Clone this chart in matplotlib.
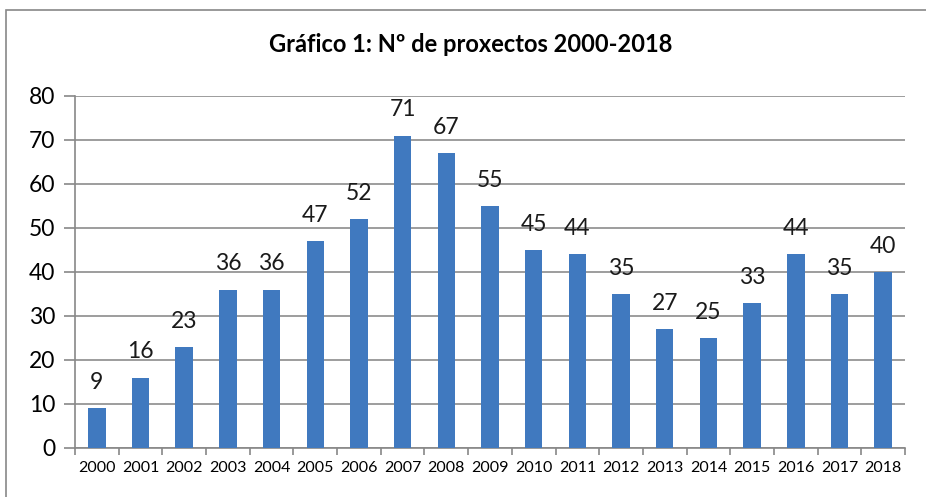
import matplotlib
matplotlib.use("Agg")
import matplotlib.pyplot as plt
from matplotlib.patches import Rectangle

years = ["2000", "2001", "2002", "2003", "2004", "2005", "2006", "2007", "2008", "2009",
         "2010", "2011", "2012", "2013", "2014", "2015", "2016", "2017", "2018"]
values = [9, 16, 23, 36, 36, 47, 52, 71, 67, 55, 45, 44, 35, 27, 25, 33, 44, 35, 40]
yticks = [0, 10, 20, 30, 40, 50, 60, 70, 80]
title = "Gráfico 1: Nº de proxectos 2000-2018"

plt.rcParams['font.family'] = ['Lato', 'DejaVu Sans']

W, H = 926, 497
fig = plt.figure(figsize=(W / 100, H / 100), dpi=100)
ax = fig.add_axes([75 / W, 1 - 448 / H, (905 - 75) / W, (448 - 96) / H])

x = list(range(len(years)))
bars = ax.bar(x, values, width=0.4, color="#4079BF", zorder=3)
for xi, v in zip(x, values):
    ax.annotate(str(v), (xi, v), xytext=(0, 11), textcoords="offset points",
                ha="center", va="bottom", fontsize=16.5, color="#1a1a1a")

ax.set_xlim(-0.5, len(years) - 0.5)
ax.set_ylim(0, 80)
ax.set_yticks(yticks)
ax.set_yticklabels([str(t) for t in yticks], fontsize=16.5)
ax.set_xticks([i - 0.5 for i in range(len(years) + 1)], minor=False)
ax.set_xticklabels([""] * (len(years) + 1))
ax.set_xticks(x, minor=True)
ax.set_xticklabels(years, minor=True, fontsize=11.5)
ax.tick_params(axis="x", which="major", length=5, width=1.2, color="#888888", direction="out")
ax.tick_params(axis="x", which="minor", length=0, pad=9)
ax.tick_params(axis="y", length=8, width=1.2, color="#888888", pad=6)
ax.grid(axis="y", color="#8c8c8c", linewidth=1.2, zorder=0)
for s in ["top", "right"]:
    ax.spines[s].set_visible(False)
for s in ["left", "bottom"]:
    ax.spines[s].set_color("#888888")
    ax.spines[s].set_linewidth(1.2)

fig.text(471 / W, 1 - 44 / H, title, ha="center", va="center", fontsize=17, fontweight="bold")

fig.patches.append(Rectangle((6 / W, -0.1), 1.0, 1 - 10 / H + 0.1, transform=fig.transFigure,
                             fill=False, edgecolor="#888888", linewidth=1.2))

fig.savefig("out.png", dpi=100)
